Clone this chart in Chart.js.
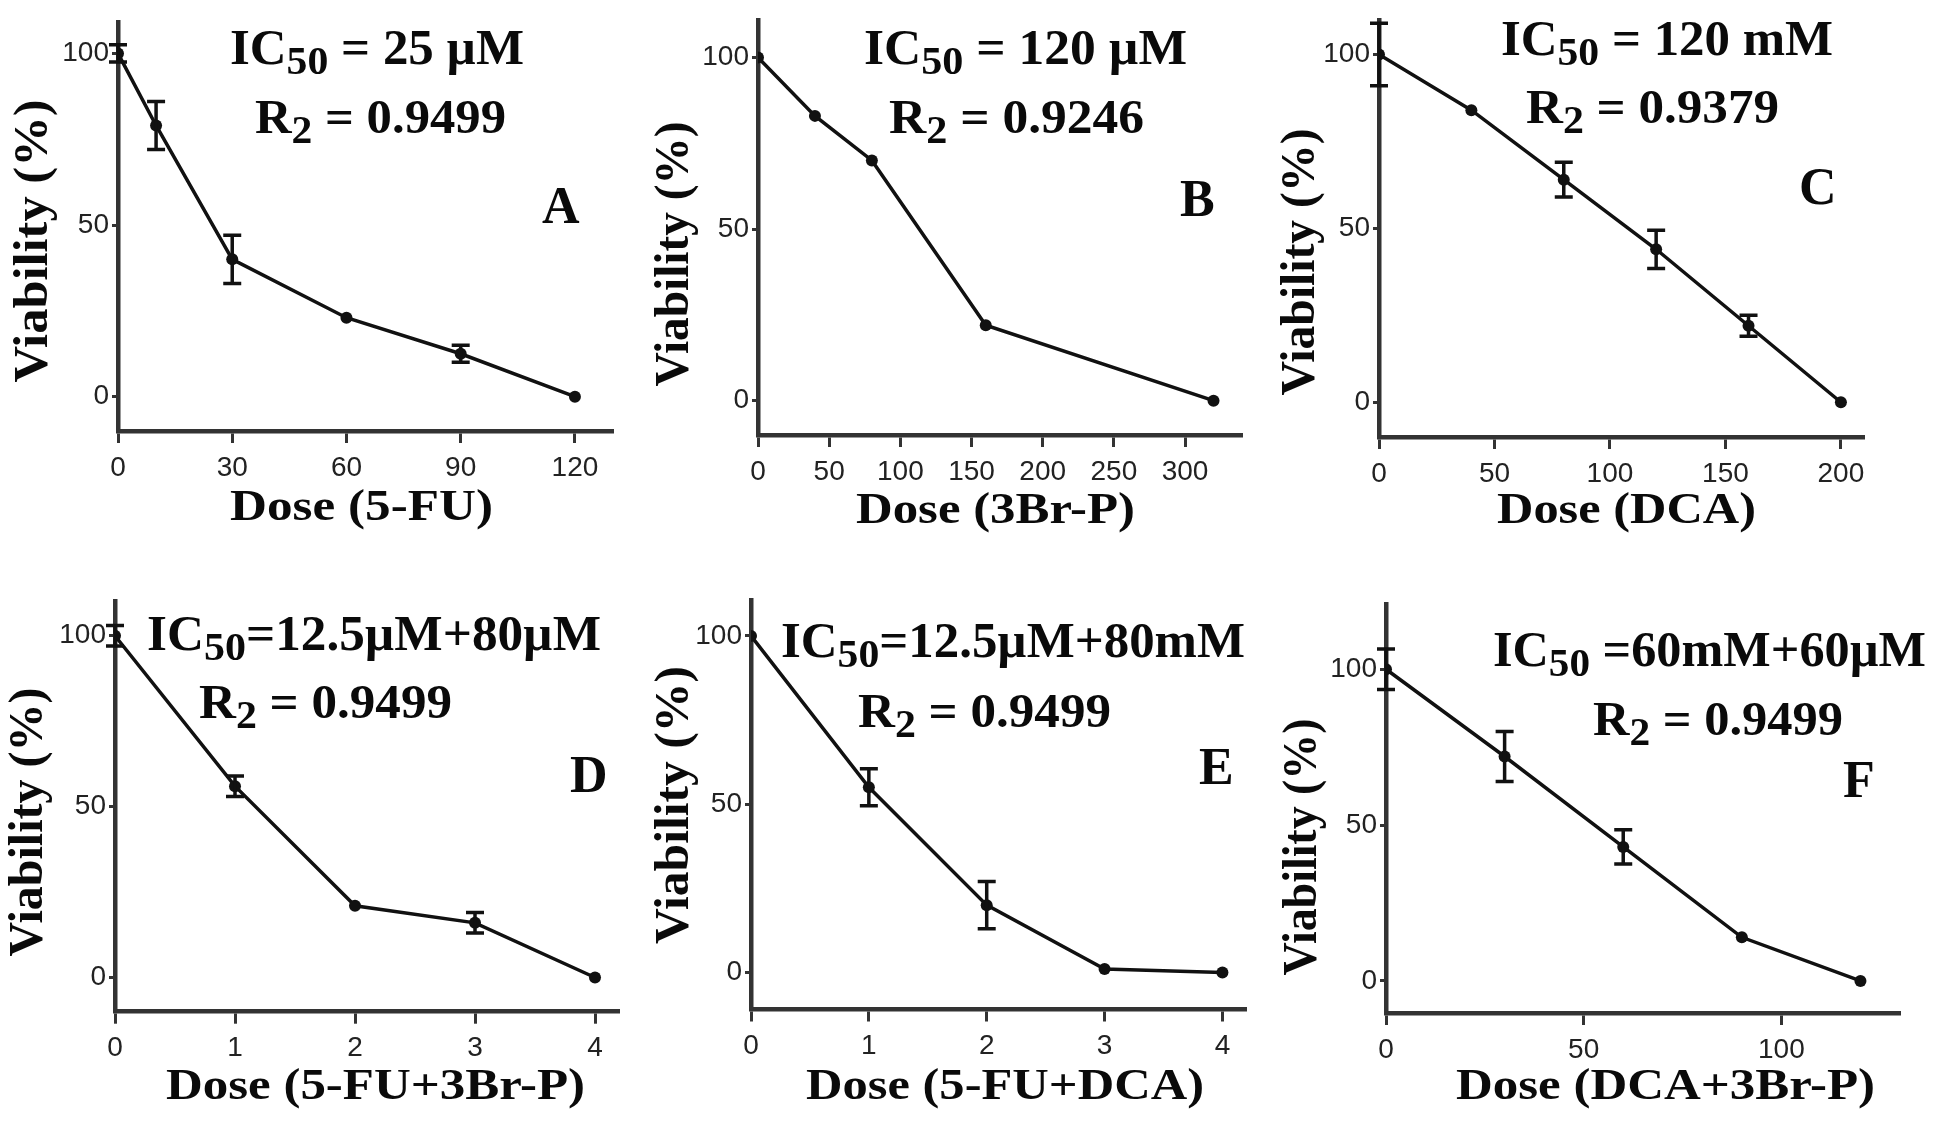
<!DOCTYPE html>
<html>
<head>
<meta charset="utf-8">
<script src="https://cdn.jsdelivr.net/npm/chart.js@4.4.0/dist/chart.umd.min.js"></script>
<style>
  html, body { margin: 0; padding: 0; background: #fff; }
  body { width: 1946px; height: 1137px; position: relative; overflow: hidden; }
  canvas { position: absolute; }
</style>
</head>
<body>
<canvas id="pA"></canvas>
<canvas id="pB"></canvas>
<canvas id="pC"></canvas>
<canvas id="pD"></canvas>
<canvas id="pE"></canvas>
<canvas id="pF"></canvas>
<script>
// data (viability %, +/- error)
const doseA = [0, 10, 30, 60, 90, 120];
const viabA = [100, 79, 40, 23, 12.5, 0];
const errA = [2.5, 7, 7, 0, 2.5, 0];

const doseB = [0, 40, 80, 160, 320];
const viabB = [100, 83, 70, 22, 0];
const errB = [0, 0, 0, 0, 0];

const doseC = [0, 40, 80, 120, 160, 200];
const viabC = [100, 84, 64, 44, 22, 0];
const errC = [9, 0, 5, 5.5, 3, 0];

const doseD = [0, 1, 2, 3, 4];
const viabD = [100, 56, 21, 16, 0];
const errD = [3, 3, 0, 3, 0];

const doseE = [0, 1, 2, 3, 4];
const viabE = [100, 55, 20, 1, 0];
const errE = [0, 5.5, 7, 0, 0];

const doseF = [0, 30, 60, 90, 120];
const viabF = [100, 72, 43, 14, 0];
const errF = [6.5, 8, 5.5, 0, 0];

const yTicks = [0, 50, 100];
const xTicksA = [0, 30, 60, 90, 120];
const xTicksB = [0, 50, 100, 150, 200, 250, 300];
const xTicksC = [0, 50, 100, 150, 200];
const xTicksD = [0, 1, 2, 3, 4];
const xTicksF = [0, 50, 100];

const SERIF = 'bold {s}px "Liberation Serif", "Times New Roman", serif';
const fontOf = s => SERIF.replace('{s}', s);

// box = canvas [left, top, width, height]; area = plot area [left, top, right, bottom], page coords
const panels = [
  { id: 'pA', dose: doseA, viab: viabA, err: errA, xTicks: xTicksA, xMax: 130, yMin: -10, yMax: 109,
    box: [0, 0, 640, 545], area: [118, 22.5, 613, 431],
    ic: [['IC', 0], ['50', 1], [' = 25 µM', 0]], icPos: [230, 524, 64],
    r2: [['R', 0], ['2', 1], [' = 0.9499', 0]], r2Pos: [255, 506, 133],
    letter: 'A', letterPos: [542, 223],
    xTitle: 'Dose (5-FU)', xTitlePos: [230, 493, 520],
    yTitlePos: [31, 241, 283] },
  { id: 'pB', dose: doseB, viab: viabB, err: errB, xTicks: xTicksB, xMax: 340, yMin: -10, yMax: 111,
    box: [640, 0, 625, 545], area: [758, 15.2, 1242, 435],
    ic: [['IC', 0], ['50', 1], [' = 120 µM', 0]], icPos: [864, 1187, 64],
    r2: [['R', 0], ['2', 1], [' = 0.9246', 0]], r2Pos: [889, 1144, 133],
    letter: 'B', letterPos: [1180, 216],
    xTitle: 'Dose (3Br-P)', xTitlePos: [856, 1135, 523],
    yTitlePos: [672, 254, 265] },
  { id: 'pC', dose: doseC, viab: viabC, err: errC, xTicks: xTicksC, xMax: 210, yMin: -10, yMax: 110,
    box: [1265, 0, 681, 545], area: [1379, 16.5, 1864, 437],
    ic: [['IC', 0], ['50', 1], [' = 120 mM', 0]], icPos: [1501, 1833, 55],
    r2: [['R', 0], ['2', 1], [' = 0.9379', 0]], r2Pos: [1526, 1779, 123],
    letter: 'C', letterPos: [1799, 204],
    xTitle: 'Dose (DCA)', xTitlePos: [1497, 1756, 523],
    yTitlePos: [1298, 262, 267] },
  { id: 'pD', dose: doseD, viab: viabD, err: errD, xTicks: xTicksD, xMax: 4.2, yMin: -10, yMax: 110,
    box: [0, 555, 640, 582], area: [115, 601.6, 619, 1011.7],
    ic: [['IC', 0], ['50', 1], ['=12.5µM+80µM', 0]], icPos: [147, 601, 650],
    r2: [['R', 0], ['2', 1], [' = 0.9499', 0]], r2Pos: [199, 452, 718],
    letter: 'D', letterPos: [570, 792],
    xTitle: 'Dose (5-FU+3Br-P)', xTitlePos: [166, 585, 1099],
    yTitlePos: [26, 822, 269] },
  { id: 'pE', dose: doseE, viab: viabE, err: errE, xTicks: xTicksD, xMax: 4.2, yMin: -11, yMax: 110.6,
    box: [640, 555, 625, 582], area: [751, 600.2, 1246, 1009.5],
    ic: [['IC', 0], ['50', 1], ['=12.5µM+80mM', 0]], icPos: [781, 1245, 657],
    r2: [['R', 0], ['2', 1], [' = 0.9499', 0]], r2Pos: [858, 1111, 727],
    letter: 'E', letterPos: [1199, 784],
    xTitle: 'Dose (5-FU+DCA)', xTitlePos: [806, 1204, 1099],
    yTitlePos: [672, 805, 278] },
  { id: 'pF', dose: doseF, viab: viabF, err: errF, xTicks: xTicksF, xMax: 130, yMin: -10.3, yMax: 121,
    box: [1265, 555, 681, 582], area: [1386, 603.8, 1900, 1013],
    ic: [['IC', 0], ['50', 1], [' =60mM+60µM', 0]], icPos: [1493, 1926, 666],
    r2: [['R', 0], ['2', 1], [' = 0.9499', 0]], r2Pos: [1593, 1843, 735],
    letter: 'F', letterPos: [1843, 797],
    xTitle: 'Dose (DCA+3Br-P)', xTitlePos: [1456, 1875, 1099],
    yTitlePos: [1300, 847, 257] }
];

// draw a run of text (with subscripts) squeezed between x0 and x1
function drawFit(ctx, parts, size, x0, x1, base) {
  let w = 0;
  parts.forEach(([t, sub]) => {
    ctx.font = fontOf(sub ? size * 0.82 : size);
    w += ctx.measureText(t).width;
  });
  ctx.save();
  ctx.translate(x0, base);
  ctx.scale((x1 - x0) / w, 1);
  let x = 0;
  parts.forEach(([t, sub]) => {
    ctx.font = fontOf(sub ? size * 0.82 : size);
    ctx.fillText(t, x, sub ? size * 0.2 : 0);
    x += ctx.measureText(t).width;
  });
  ctx.restore();
}

function makeChart(p) {
  const [bx, by, bw, bh] = p.box;
  const [L, T, R, B] = p.area;
  const canvas = document.getElementById(p.id);
  canvas.width = bw;
  canvas.height = bh;
  canvas.style.left = bx + 'px';
  canvas.style.top = by + 'px';

  const errorBars = {
    id: 'errorBars',
    afterDatasetsDraw(chart) {
      const { ctx, scales: { x, y } } = chart;
      ctx.save();
      ctx.strokeStyle = '#111';
      ctx.lineWidth = 3.5;
      p.dose.forEach((d, i) => {
        if (!p.err[i]) return;
        const px = x.getPixelForValue(d);
        const yt = y.getPixelForValue(p.viab[i] + p.err[i]);
        const yb = y.getPixelForValue(p.viab[i] - p.err[i]);
        ctx.beginPath();
        ctx.moveTo(px, yt); ctx.lineTo(px, yb);
        ctx.moveTo(px - 9, yt); ctx.lineTo(px + 9, yt);
        ctx.moveTo(px - 9, yb); ctx.lineTo(px + 9, yb);
        ctx.stroke();
      });
      ctx.restore();
    }
  };

  const labels = {
    id: 'labels',
    afterDraw(chart) {
      const ctx = chart.ctx;
      ctx.save();
      ctx.translate(-bx, -by);
      ctx.fillStyle = '#0a0a0a';
      ctx.textBaseline = 'alphabetic';
      drawFit(ctx, p.ic, 50, p.icPos[0], p.icPos[1], p.icPos[2]);
      drawFit(ctx, p.r2, 48, p.r2Pos[0], p.r2Pos[1], p.r2Pos[2]);
      ctx.font = fontOf(52);
      ctx.fillText(p.letter, p.letterPos[0], p.letterPos[1]);
      drawFit(ctx, [[p.xTitle, 0]], 44, p.xTitlePos[0], p.xTitlePos[1], p.xTitlePos[2]);
      const [tx, ty, len] = p.yTitlePos;
      ctx.translate(tx, ty);
      ctx.rotate(-Math.PI / 2);
      drawFit(ctx, [['Viability (%)', 0]], 48, -len / 2, len / 2, 48 * 0.33);
      ctx.restore();
    }
  };

  const tickFont = { family: '"Liberation Sans Narrow", "Liberation Sans", Arial, sans-serif', size: 28 };

  return new Chart(canvas, {
    type: 'scatter',
    data: {
      datasets: [{
        data: p.dose.map((d, i) => ({ x: d, y: p.viab[i] })),
        showLine: true,
        borderColor: '#111',
        borderWidth: 3.5,
        pointRadius: 6,
        pointBackgroundColor: '#111',
        pointBorderWidth: 0,
        tension: 0
      }]
    },
    options: {
      responsive: false,
      animation: false,
      events: [],
      layout: {
        autoPadding: false,
        padding: { left: 0, top: T - by, right: bx + bw - R, bottom: 0 }
      },
      plugins: { legend: { display: false }, tooltip: { enabled: false } },
      scales: {
        x: {
          type: 'linear',
          min: 0,
          max: p.xMax,
          afterBuildTicks: s => { s.ticks = p.xTicks.map(v => ({ value: v })); },
          afterFit: s => { s.height = by + bh - B; },
          border: { display: true, color: '#333', width: 4.5 },
          grid: { drawOnChartArea: false, tickLength: 12, tickWidth: 3, color: '#333' },
          ticks: { padding: 8, color: '#222', font: tickFont, maxRotation: 0 }
        },
        y: {
          type: 'linear',
          min: p.yMin,
          max: p.yMax,
          afterBuildTicks: s => { s.ticks = yTicks.map(v => ({ value: v })); },
          afterFit: s => { s.width = L - bx; },
          border: { display: true, color: '#333', width: 4.5 },
          grid: { drawOnChartArea: false, tickLength: 6, tickWidth: 3, color: '#333' },
          ticks: { padding: 3, color: '#222', font: tickFont }
        }
      }
    },
    plugins: [errorBars, labels]
  });
}

panels.forEach(makeChart);
</script>
</body>
</html>
